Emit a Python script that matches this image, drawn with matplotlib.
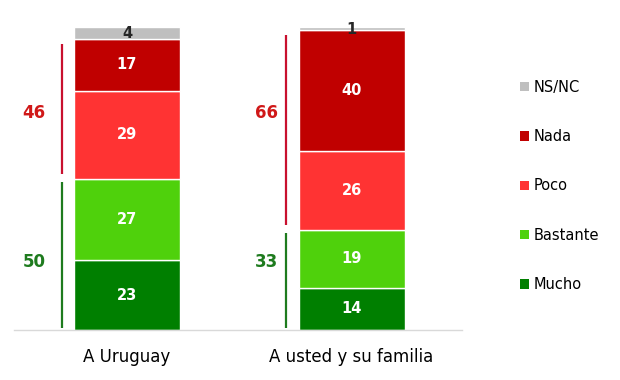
import matplotlib
matplotlib.use("Agg")
import matplotlib.pyplot as plt
from matplotlib.patches import Patch
import numpy as np

categories = ["A Uruguay", "A usted y su familia"]
series_names = ["Mucho", "Bastante", "Poco", "Nada", "NS/NC"]
mucho = [23, 14]
bastante = [27, 19]
poco = [29, 26]
nada = [17, 40]
nsnc = [4, 1]
colors = ["#007F00", "#4FD10C", "#FF3333", "#C00000", "#BFBFBF"]
text_colors = ["white", "white", "white", "white", "#262626"]

series = [mucho, bastante, poco, nada, nsnc]
red_tot = [p + n for p, n in zip(poco, nada)]
green_tot = [m + b for m, b in zip(mucho, bastante)]

fig = plt.figure(figsize=(6.2, 3.8), dpi=100)
ax = fig.add_axes([14/620, 50/380, 448/620, 303/380])

x = np.arange(len(categories))
width = 0.472
bottom = np.zeros(len(categories))
for vals, col, tc in zip(series, colors, text_colors):
    ax.bar(x, vals, width, bottom=bottom, color=col, edgecolor="white", linewidth=1)
    for xi, v, b in zip(x, vals, bottom):
        if tc == "white":
            ax.text(xi, b + v/2, str(v), ha="center", va="center", color=tc,
                    fontsize=10.5, fontweight="bold")
        else:
            ax.text(xi, b + v/2 - 0.3, str(v), ha="center", va="center", color=tc,
                    fontsize=10.5, fontweight="bold")
    bottom = bottom + np.array(vals)

red_line = "#C8102E"
green_line = "#1E7B1E"
for xi, g, r, off in zip(x, green_tot, red_tot, [0.125, 0.09]):
    lx = xi - 0.29
    ax.plot([lx, lx], [0.5, g - 1], color=green_line, lw=1.6, solid_capstyle="butt")
    ax.plot([lx, lx], [g + 1.5, g + r - 1.5], color=red_line, lw=1.6, solid_capstyle="butt")
    ax.text(lx - off, 71.5, str(r), ha="center", va="center", color="#D01818",
            fontsize=12, fontweight="bold")
    ax.text(lx - off, 22.5, str(g), ha="center", va="center", color="#1E7B1E",
            fontsize=12, fontweight="bold")

ax.set_xlim(-0.503, 1.492)
ax.set_ylim(0, 100)
ax.set_xticks(x)
ax.set_xticklabels(categories, fontsize=12)
ax.tick_params(axis="x", length=0, pad=13)
ax.set_yticks([])
for s in ["top", "right", "left"]:
    ax.spines[s].set_visible(False)
ax.spines["bottom"].set_color("#D9D9D9")
ax.spines["bottom"].set_linewidth(1)

handles = [Patch(facecolor=c, edgecolor="none") for c in colors][::-1]
labels = series_names[::-1]
fig.legend(handles, labels, loc="center left", bbox_to_anchor=(507/620, 1 - 186/380),
           frameon=False, fontsize=10.5, handlelength=0.6, handleheight=0.6,
           handletextpad=0.35, labelspacing=2.35)

fig.savefig("out.png", dpi=100)
